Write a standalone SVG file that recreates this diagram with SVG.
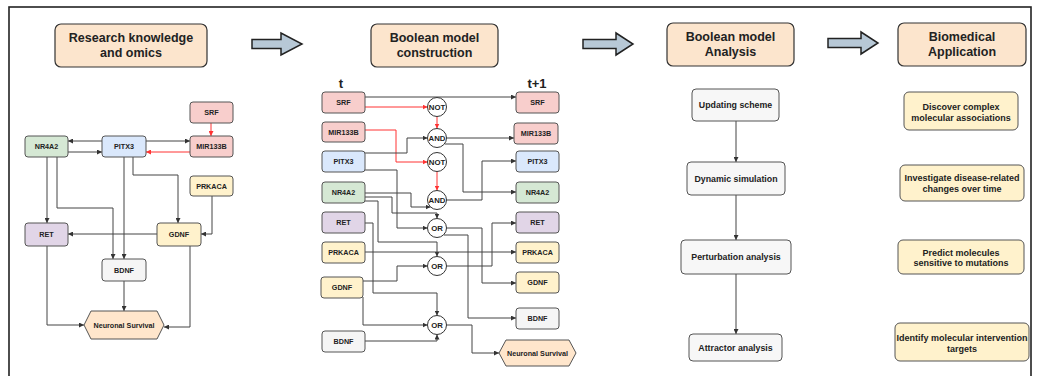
<svg xmlns="http://www.w3.org/2000/svg" width="1037" height="376" viewBox="0 0 1037 376">
  <defs>
    <marker id="ah" viewBox="0 0 6 6" refX="6" refY="3" markerWidth="5" markerHeight="5" markerUnits="userSpaceOnUse" orient="auto">
      <path d="M0,0 L6,3 L0,6 z" fill="#333"/>
    </marker>
    <marker id="ahr" viewBox="0 0 6 6" refX="6" refY="3" markerWidth="5" markerHeight="5" markerUnits="userSpaceOnUse" orient="auto">
      <path d="M0,0 L6,3 L0,6 z" fill="#f33"/>
    </marker>
    <style>
      text { font-family: "Liberation Sans", Arial, sans-serif; font-weight: bold; text-anchor: middle; dominant-baseline: central; fill: #222; }
      .hd rect { fill: #fce5cd; stroke: #333; stroke-width: 1.2; }
      .hd text { font-size: 12.5px; }
      .nd rect, .nd polygon { stroke: #555; stroke-width: 1; }
      .nd text { font-size: 7.2px; }
      .pink { fill: #f8cecc; }
      .green { fill: #d5e8d4; }
      .blue { fill: #dae8fc; }
      .purple { fill: #e1d5e7; }
      .yellow { fill: #fff2cc; }
      .grey { fill: #f5f5f5; }
      .peach { fill: #ffe6cc; }
      .gate circle { fill: #fff; stroke: #333; stroke-width: 1; }
      .gate text { font-size: 7.8px; }
      .step rect { fill: #f7f7f7; stroke: #555; stroke-width: 1; }
      .step text { font-size: 8.8px; }
      .app rect { fill: #fff2cc; stroke: #555; stroke-width: 1; }
      .app text { font-size: 9px; }
      .big { fill: #b7c8d6; stroke: #222; stroke-width: 1.5; stroke-linejoin: miter; }
      .e { fill: none; stroke: #444; stroke-width: 1; marker-end: url(#ah); }
      .r { fill: none; stroke: #f33; stroke-width: 1; marker-end: url(#ahr); }
      .lbl { font-size: 13px; }
    </style>
  </defs>

  <rect x="0" y="0" width="1037" height="376" fill="#fff"/>
  <!-- outer frame -->
  <rect x="9" y="7" width="1022" height="380" fill="none" stroke="#222" stroke-width="1.6"/>

  <!-- section headers -->
  <g id="hdr-research" class="hd">
    <rect x="55" y="24" width="152" height="43" rx="6"/>
    <text x="131" y="38">Research knowledge</text>
    <text x="131" y="53">and omics</text>
  </g>
  <g id="hdr-construction" class="hd">
    <rect x="371" y="24" width="127" height="43" rx="6"/>
    <text x="434.5" y="38">Boolean model</text>
    <text x="434.5" y="53">construction</text>
  </g>
  <g id="hdr-analysis" class="hd">
    <rect x="667" y="23" width="127" height="43" rx="6"/>
    <text x="730.5" y="37">Boolean model</text>
    <text x="730.5" y="52">Analysis</text>
  </g>
  <g id="hdr-application" class="hd">
    <rect x="898" y="23" width="128" height="43" rx="6"/>
    <text x="962" y="37">Biomedical</text>
    <text x="962" y="52">Application</text>
  </g>

  <!-- flow arrows between sections -->
  <g id="flow-arrows">
    <polygon class="big" points="252,39.5 281,39.5 281,33 302,44 281,55 281,48.5 252,48.5"/>
    <polygon class="big" points="583,39.5 616,39.5 616,33 633,44 616,55 616,48.5 583,48.5"/>
    <polygon class="big" points="828,38.5 861,38.5 861,32 878,43 861,54 861,47.5 828,47.5"/>
  </g>

  <!-- ===== regulatory network ===== -->
  <g id="net-connectors">
    <path class="r" d="M211,123 V136"/>
    <path class="e" d="M102,141 H68"/>
    <path class="e" d="M68,152 H102"/>
    <path class="e" d="M146,141 H190"/>
    <path class="r" d="M190,152 H146"/>
    <path class="e" d="M47,157 V223"/>
    <path class="e" d="M57,157 V208 H113 V259"/>
    <path class="e" d="M124,157 V259"/>
    <path class="e" d="M133,157 V175 H178 V223"/>
    <path class="e" d="M212,196 V234 H201"/>
    <path class="e" d="M157,234 H68"/>
    <path class="e" d="M124,281 V311"/>
    <path class="e" d="M47,246 V325 H84"/>
    <path class="e" d="M190,246 V327 H164"/>
  </g>
  <g id="net-srf" class="nd"><rect class="pink" x="190" y="102" width="43" height="21" rx="3"/><text x="211.5" y="112.5">SRF</text></g>
  <g id="net-nr4a2" class="nd"><rect class="green" x="25" y="136" width="43" height="21" rx="3"/><text x="46.5" y="146.5">NR4A2</text></g>
  <g id="net-pitx3" class="nd"><rect class="blue" x="102" y="136" width="44" height="21" rx="3"/><text x="124" y="146.5">PITX3</text></g>
  <g id="net-mir133b" class="nd"><rect class="pink" x="190" y="136" width="43" height="21" rx="3"/><text x="211.5" y="146.5">MIR133B</text></g>
  <g id="net-prkaca" class="nd"><rect class="yellow" x="190" y="176" width="43" height="20" rx="3"/><text x="211.5" y="186">PRKACA</text></g>
  <g id="net-ret" class="nd"><rect class="purple" x="25" y="223" width="43" height="23" rx="3"/><text x="46.5" y="234.5">RET</text></g>
  <g id="net-gdnf" class="nd"><rect class="yellow" x="157" y="223" width="44" height="23" rx="3"/><text x="179" y="234.5">GDNF</text></g>
  <g id="net-bdnf" class="nd"><rect class="grey" x="102" y="259" width="44" height="22" rx="3"/><text x="124" y="270">BDNF</text></g>
  <g id="net-survival" class="nd"><polygon class="peach" points="84,325 91,311 157,311 164,325 157,339 91,339"/><text x="124" y="325">Neuronal Survival</text></g>

  <!-- ===== Boolean model (t -> t+1) ===== -->
  <text class="lbl" x="341" y="83">t</text>
  <text class="lbl" x="537" y="83">t+1</text>

  <g id="bool-connectors">
    <path class="e" d="M365,97 H516"/>
    <path class="r" d="M365,107 H427.5"/>
    <path class="r" d="M437,116.5 V128.5"/>
    <path class="r" d="M365,130 H396 V162 H427.5"/>
    <path class="e" d="M365,153 H407 V138 H427.5"/>
    <path class="r" d="M437,171.5 V190.5"/>
    <path class="e" d="M446.5,138 H514"/>
    <path class="e" d="M445,144 H463 V192 H516"/>
    <path class="e" d="M446.5,200 H482 V161 H516"/>
    <path class="e" d="M365,193 H411 V207 H430.5"/>
    <path class="e" d="M365,197 H392 V213 H437 V218.5"/>
    <path class="e" d="M365,170 H397 V228 H427.5"/>
    <path class="e" d="M365,201 H378 V242 H437 V256.5"/>
    <path class="e" d="M365,223 H373 V293 H437 V315.5"/>
    <path class="e" d="M365,252 H516"/>
    <path class="e" d="M363,281 H397 V266 H427.5"/>
    <path class="e" d="M363,297 V325 H427.5"/>
    <path class="e" d="M365,341 H437 V334.5"/>
    <path class="e" d="M446.5,228 H482 V283 H516"/>
    <path class="e" d="M444,235 H468 V318 H516"/>
    <path class="e" d="M446.5,266 H492 V223 H516"/>
    <path class="e" d="M446.5,325 H472 V353 H499"/>
  </g>

  <!-- state at t -->
  <g id="t-srf" class="nd"><rect class="pink" x="322" y="92" width="43" height="21" rx="3"/><text x="343.5" y="102.5">SRF</text></g>
  <g id="t-mir133b" class="nd"><rect class="pink" x="322" y="122" width="43" height="20" rx="3"/><text x="343.5" y="132">MIR133B</text></g>
  <g id="t-pitx3" class="nd"><rect class="blue" x="322" y="151" width="43" height="21" rx="3"/><text x="343.5" y="161.5">PITX3</text></g>
  <g id="t-nr4a2" class="nd"><rect class="green" x="322" y="182" width="43" height="21" rx="3"/><text x="343.5" y="192.5">NR4A2</text></g>
  <g id="t-ret" class="nd"><rect class="purple" x="322" y="212" width="43" height="21" rx="3"/><text x="343.5" y="222.5">RET</text></g>
  <g id="t-prkaca" class="nd"><rect class="yellow" x="322" y="242" width="43" height="21" rx="3"/><text x="343.5" y="252.5">PRKACA</text></g>
  <g id="t-gdnf" class="nd"><rect class="yellow" x="321" y="277" width="42" height="21" rx="3"/><text x="342" y="287.5">GDNF</text></g>
  <g id="t-bdnf" class="nd"><rect class="grey" x="322" y="331" width="43" height="21" rx="3"/><text x="343.5" y="341.5">BDNF</text></g>

  <!-- logic gates -->
  <g id="g-not1" class="gate"><circle cx="437" cy="107" r="9.5"/><text x="437" y="107">NOT</text></g>
  <g id="g-and1" class="gate"><circle cx="437" cy="138" r="9.5"/><text x="437" y="138">AND</text></g>
  <g id="g-not2" class="gate"><circle cx="437" cy="162" r="9.5"/><text x="437" y="162">NOT</text></g>
  <g id="g-and2" class="gate"><circle cx="437" cy="200" r="9.5"/><text x="437" y="200">AND</text></g>
  <g id="g-or1" class="gate"><circle cx="437" cy="228" r="9.5"/><text x="437" y="228">OR</text></g>
  <g id="g-or2" class="gate"><circle cx="437" cy="266" r="9.5"/><text x="437" y="266">OR</text></g>
  <g id="g-or3" class="gate"><circle cx="437" cy="325" r="9.5"/><text x="437" y="325">OR</text></g>

  <!-- state at t+1 -->
  <g id="t1-srf" class="nd"><rect class="pink" x="516" y="92" width="43" height="21" rx="3"/><text x="537.5" y="102.5">SRF</text></g>
  <g id="t1-mir133b" class="nd"><rect class="pink" x="514" y="123" width="44" height="21" rx="3"/><text x="536" y="133.5">MIR133B</text></g>
  <g id="t1-pitx3" class="nd"><rect class="blue" x="516" y="151" width="43" height="21" rx="3"/><text x="537.5" y="161.5">PITX3</text></g>
  <g id="t1-nr4a2" class="nd"><rect class="green" x="516" y="182" width="43" height="21" rx="3"/><text x="537.5" y="192.5">NR4A2</text></g>
  <g id="t1-ret" class="nd"><rect class="purple" x="516" y="212" width="43" height="21" rx="3"/><text x="537.5" y="222.5">RET</text></g>
  <g id="t1-prkaca" class="nd"><rect class="yellow" x="516" y="242" width="43" height="21" rx="3"/><text x="537.5" y="252.5">PRKACA</text></g>
  <g id="t1-gdnf" class="nd"><rect class="yellow" x="516" y="272" width="43" height="21" rx="3"/><text x="537.5" y="282.5">GDNF</text></g>
  <g id="t1-bdnf" class="nd"><rect class="grey" x="516" y="308" width="43" height="21" rx="3"/><text x="537.5" y="318.5">BDNF</text></g>
  <g id="t1-survival" class="nd"><polygon class="peach" points="499,353 506,340 569,340 576,353 569,366 506,366"/><text x="537.5" y="353">Neuronal Survival</text></g>

  <!-- ===== analysis pipeline ===== -->
  <g id="analysis-connectors">
    <path class="e" d="M736,121 V162"/>
    <path class="e" d="M736,195 V240"/>
    <path class="e" d="M736,274 V334"/>
  </g>
  <g id="step-updating" class="step"><rect x="692" y="89" width="87" height="32" rx="4"/><text x="735.5" y="105">Updating scheme</text></g>
  <g id="step-dynamic" class="step"><rect x="687" y="162" width="98" height="33" rx="4"/><text x="736" y="178.5">Dynamic simulation</text></g>
  <g id="step-perturbation" class="step"><rect x="681" y="240" width="110" height="34" rx="4"/><text x="736" y="257">Perturbation analysis</text></g>
  <g id="step-attractor" class="step"><rect x="689" y="334" width="93" height="27" rx="4"/><text x="735.5" y="347.5">Attractor analysis</text></g>

  <!-- ===== applications ===== -->
  <g id="app-associations" class="app"><rect x="904" y="92" width="114" height="38" rx="5"/><text x="961" y="106.5">Discover complex</text><text x="961" y="117.5">molecular associations</text></g>
  <g id="app-disease" class="app"><rect x="900" y="165" width="124" height="36" rx="5"/><text x="962" y="178">Investigate disease-related</text><text x="962" y="189">changes over time</text></g>
  <g id="app-mutations" class="app"><rect x="898" y="240" width="126" height="34" rx="5"/><text x="961" y="252.5">Predict molecules</text><text x="961" y="263">sensitive to mutations</text></g>
  <g id="app-targets" class="app"><rect x="895" y="323" width="134" height="38" rx="5"/><text x="962" y="337.5">Identify molecular intervention</text><text x="962" y="348.5">targets</text></g>
</svg>
